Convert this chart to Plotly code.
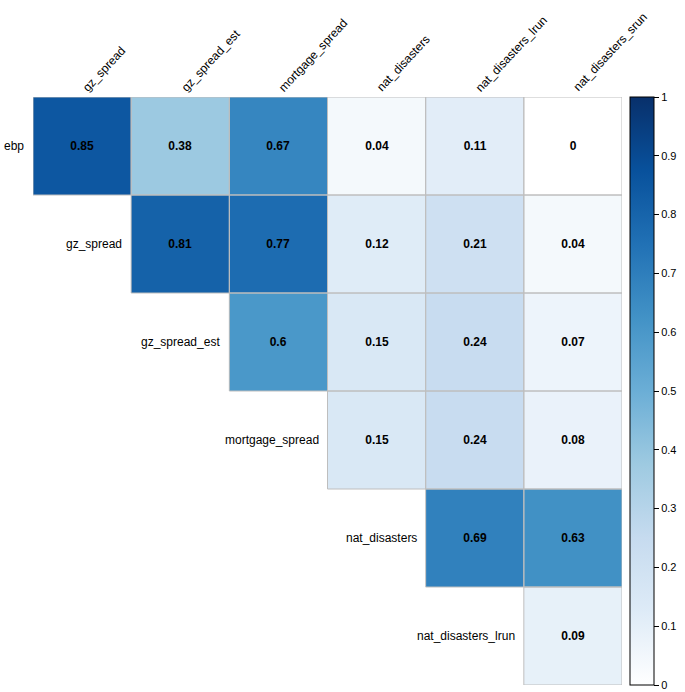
import plotly.graph_objects as go

row_labels = ["ebp", "gz_spread", "gz_spread_est", "mortgage_spread", "nat_disasters", "nat_disasters_lrun"]
col_labels = ["gz_spread", "gz_spread_est", "mortgage_spread", "nat_disasters", "nat_disasters_lrun", "nat_disasters_srun"]

row_ebp = [0.85, 0.38, 0.67, 0.04, 0.11, 0]
row_gz_spread = [None, 0.81, 0.77, 0.12, 0.21, 0.04]
row_gz_spread_est = [None, None, 0.6, 0.15, 0.24, 0.07]
row_mortgage_spread = [None, None, None, 0.15, 0.24, 0.08]
row_nat_disasters = [None, None, None, None, 0.69, 0.63]
row_nat_disasters_lrun = [None, None, None, None, None, 0.09]

z = [row_ebp, row_gz_spread, row_gz_spread_est, row_mortgage_spread,
     row_nat_disasters, row_nat_disasters_lrun]

cb_ticks = [0, 0.1, 0.2, 0.3, 0.4, 0.5, 0.6, 0.7, 0.8, 0.9, 1]

blues = [
    [0.0, "#FFFFFF"], [0.125, "#DEEBF7"], [0.25, "#C6DBEF"], [0.375, "#9ECAE1"],
    [0.5, "#6BAED6"], [0.625, "#4292C6"], [0.75, "#2171B5"], [0.875, "#08519C"],
    [1.0, "#08306B"],
]

FONT = "Liberation Sans, Arial, sans-serif"

text = [["" if v is None else ("0" if v == 0 else f"{v:g}") for v in row] for row in z]

xi = list(range(len(col_labels)))
yi = list(range(len(row_labels)))

fig = go.Figure()
fig.add_trace(go.Heatmap(
    z=z, x=xi, y=yi, zmin=0, zmax=1, colorscale=blues,
    text=text, texttemplate="<b>%{text}</b>",
    textfont=dict(family=FONT, size=12, color="black"),
    hoverinfo="skip",
    colorbar=dict(
        x=1.0136, xanchor="left", xpad=0, y=0.5, yanchor="middle", ypad=0,
        len=1, lenmode="fraction", thickness=24,
        outlinewidth=1, outlinecolor="black",
        tickvals=cb_ticks, ticktext=[f"{t:g}" for t in cb_ticks],
        ticks="outside", ticklen=5, tickcolor="black",
        tickfont=dict(family=FONT, size=11, color="black"),
    ),
))

shapes = []
for i, row in enumerate(z):
    for j, v in enumerate(row):
        if v is None:
            continue
        shapes.append(dict(type="rect", xref="x", yref="y",
                           x0=j - 0.5, x1=j + 0.5, y0=i - 0.5, y1=i + 0.5,
                           line=dict(color="#BEBEBE", width=1), fillcolor="rgba(0,0,0,0)"))

annotations = []
for i, lab in enumerate(row_labels):
    annotations.append(dict(x=i - 0.5, y=i, xref="x", yref="y", text=lab,
                            showarrow=False, xanchor="right", yanchor="middle", xshift=-7,
                            font=dict(family=FONT, size=12, color="black")))
for j, lab in enumerate(col_labels):
    annotations.append(dict(x=j, y=1, xref="x", yref="paper", text=lab,
                            showarrow=False, xanchor="left", yanchor="bottom", xshift=-5, yshift=0,
                            textangle=-47,
                            font=dict(family=FONT, size=12, color="black")))

fig.update_layout(
    width=685, height=692,
    margin=dict(l=33, r=63, t=97, b=7),
    plot_bgcolor="white", paper_bgcolor="white",
    xaxis=dict(range=[-0.5, 5.5], showgrid=False, zeroline=False, showticklabels=False, ticks=""),
    yaxis=dict(range=[5.5, -0.5], showgrid=False, zeroline=False, showticklabels=False, ticks=""),
    shapes=shapes, annotations=annotations,
)

fig.write_html("out.html", config={"displayModeBar": False},
               post_script="document.body.style.margin='0px';")
